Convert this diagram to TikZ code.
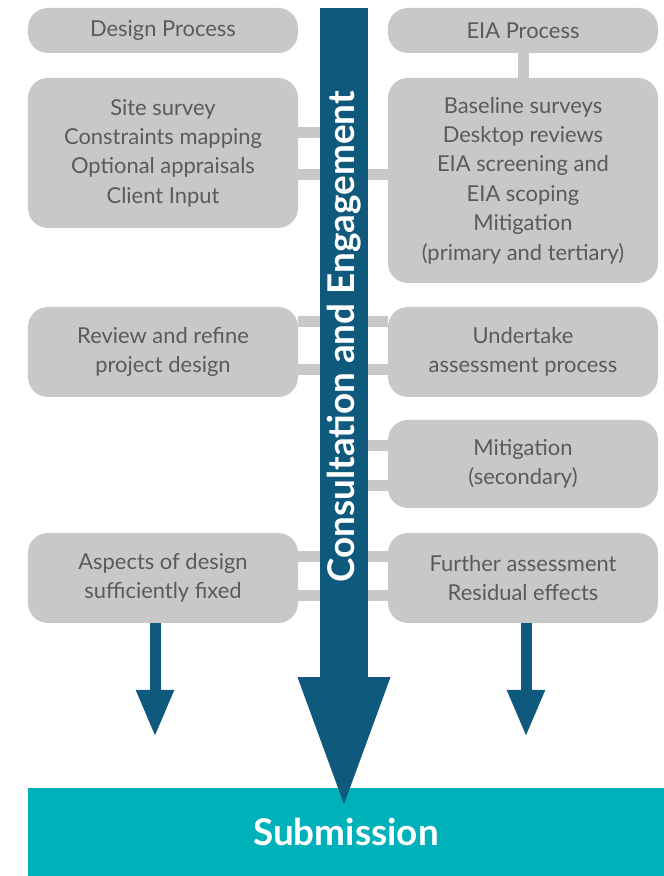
\documentclass[tikz,border=0pt]{standalone}
\usepackage{fontspec}
\setmainfont{Lato}
\usetikzlibrary{arrows.meta,backgrounds}
\definecolor{boxgrey}{HTML}{C8C8C8}
\definecolor{txtgrey}{HTML}{5A5A5A}
\definecolor{eiablue}{HTML}{0F5A7C}
\definecolor{subteal}{HTML}{00B1B9}
\tikzset{
  stage/.style={fill=boxgrey, rounded corners=20bp, minimum width=270bp, inner sep=0pt,
    align=center, text=txtgrey, font=\fontsize{22}{29.5}\selectfont},
  link/.style={draw=boxgrey, line width=11bp},
  down/.style={draw=eiablue, line width=11bp, -{Triangle[width=35bp,length=47bp]}}
}
\begin{document}
\begin{tikzpicture}[x=1bp,y=1bp]
\useasboundingbox (0,0) rectangle (664,876);
\node[fill=subteal, minimum width=636bp, minimum height=88bp, inner sep=0pt, text=white,
  font=\bfseries\fontsize{37}{37}\selectfont] (sub) at (346,44) {Submission};
\node[stage, minimum height=45bp] (dp) at (163,845.5) {Design Process};
\node[stage, minimum height=45bp] (ep) at (523,845.5) {EIA Process};
\node[stage, minimum height=150bp] (s1) at (163,723) {Site survey\\Constraints mapping\\Optional appraisals\\Client Input};
\node[stage, minimum height=205bp] (e1) at (523,695.5) {Baseline surveys\\Desktop reviews\\EIA screening and\\EIA scoping\\Mitigation\\(primary and tertiary)};
\node[stage, minimum height=90bp] (s2) at (163,524) {Review and refine\\project design};
\node[stage, minimum height=90bp] (e2) at (523,524) {Undertake\\assessment process};
\node[stage, minimum height=88bp] (e3) at (523,412) {Mitigation\\(secondary)};
\node[stage, minimum height=90bp] (s3) at (163,298) {Aspects of design\\sufficiently fixed};
\node[stage, minimum height=90bp] (e4) at (523,298) {Further assessment\\Residual effects};
% central consultation arrow
\node[fill=eiablue, rotate=90, minimum width=669bp, minimum height=48bp, inner sep=0pt, text=white,
  font=\bfseries\fontsize{37}{37}\selectfont] (cae) at (344,533.5) {\hspace*{11bp}Consultation and Engagement};
\fill[eiablue] ([xshift=-46.5bp]cae.west) -- ([xshift=46.5bp]cae.west) -- ([yshift=-127bp]cae.west) -- cycle;
% links behind the arrow
\begin{scope}[on background layer]
\draw[link] ([yshift=20bp]s1.east) -- ([yshift=20bp]s1.east -| cae.center);
\draw[link] ([yshift=-22bp]s1.east) -- ([yshift=-22bp]s1.east -| e1.west);
\draw[link] (ep.south) -- (e1.north);
\draw[link] ([yshift=30bp]s2.east) -- ([yshift=30bp]s2.east -| e2.west);
\draw[link] ([yshift=-18bp]s2.east) -- ([yshift=-18bp]s2.east -| e2.west);
\draw[link] ([yshift=18bp]e3.west) -- ([yshift=18bp]e3.west -| cae.center);
\draw[link] ([yshift=-22bp]e3.west) -- ([yshift=-22bp]e3.west -| cae.center);
\draw[link] ([yshift=21bp]s3.east) -- ([yshift=21bp]s3.east -| e4.west);
\draw[link] ([yshift=-18bp]s3.east) -- ([yshift=-18bp]s3.east -| e4.west);
\end{scope}
% arrows to submission
\coordinate (s3end) at (155,139);
\coordinate (e4end) at (526,139);
\draw[down] (s3.south -| s3end) -- (s3end);
\draw[down] (e4.south -| e4end) -- (e4end);
\end{tikzpicture}
\end{document}
